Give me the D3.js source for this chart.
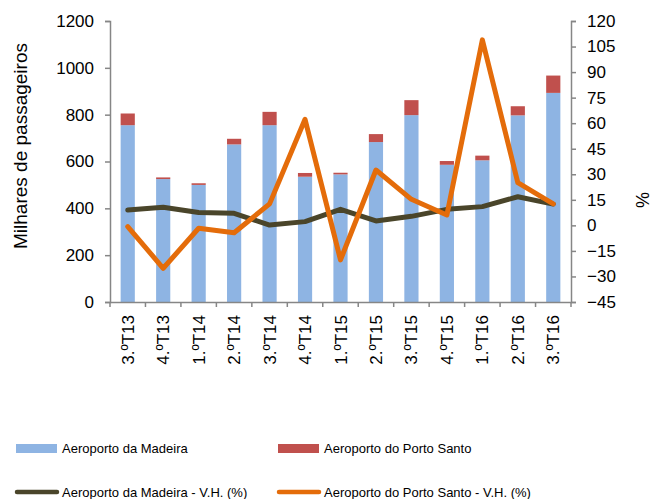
<!DOCTYPE html>
<html>
<head>
<meta charset="utf-8">
<script src="https://cdn.jsdelivr.net/npm/d3@7"></script>
<style>
  body { margin: 0; background: #fff; }
  svg { font-family: "Liberation Sans", Arial, sans-serif; }
</style>
</head>
<body>
<svg id="chart" width="654" height="499"></svg>
<script>
// data
const quarters = ["3.ºT13", "4.ºT13", "1.ºT14", "2.ºT14", "3.ºT14", "4.ºT14", "1.ºT15",
  "2.ºT15", "3.ºT15", "4.ºT15", "1.ºT16", "2.ºT16", "3.ºT16"];
const madeira = [755, 525, 500, 673, 755, 535, 545, 683, 798, 586, 605, 797, 893];
const portoSanto = [50, 7, 7, 24, 57, 16, 7, 34, 64, 16, 20, 39, 74];
const madeiraVH = [9.0, 10.6, 7.5, 7.1, 0.2, 2.2, 9.4, 2.6, 5.3, 9.4, 11.0, 16.8, 12.5];
const portoSantoVH = [-0.7, -25.2, -1.7, -4.3, 12.6, 62.3, -20.3, 32.5, 15.3, 6.1, 108.9, 25.1, 12.6];
const leftTicks = [0, 200, 400, 600, 800, 1000, 1200];
const rightTicks = [-45, -30, -15, 0, 15, 30, 45, 60, 75, 90, 105, 120];

const colors = {
  madeira: "#8EB4E3",
  portoSanto: "#C0504D",
  madeiraVH: "#4A452A",
  portoSantoVH: "#E46C0A",
  axis: "#868686"
};

const svg = d3.select("#chart");
const plotLeft = 110, plotRight = 571, plotTop = 21, plotBottom = 302;

const x = d3.scaleBand()
  .domain(quarters)
  .range([plotLeft, plotRight])
  .paddingInner(0.6)
  .paddingOuter(0.3);

const xBand = d3.scaleBand().domain(quarters).range([plotLeft, plotRight]);

const y = d3.scaleLinear().domain([0, 1200]).range([plotBottom, plotTop]);
const y2 = d3.scaleLinear().domain([-45, 120]).range([plotBottom, plotTop]);

// stacked bars
const bars = svg.append("g");
bars.selectAll(".madeira")
  .data(quarters)
  .enter()
  .append("rect")
  .attr("class", "madeira")
  .attr("x", d => x(d))
  .attr("width", x.bandwidth())
  .attr("y", (d, i) => y(madeira[i]))
  .attr("height", (d, i) => y(0) - y(madeira[i]))
  .attr("fill", colors.madeira);

bars.selectAll(".ps")
  .data(quarters)
  .enter()
  .append("rect")
  .attr("class", "ps")
  .attr("x", d => x(d))
  .attr("width", x.bandwidth())
  .attr("y", (d, i) => y(madeira[i] + portoSanto[i]))
  .attr("height", (d, i) => y(madeira[i]) - y(madeira[i] + portoSanto[i]))
  .attr("fill", colors.portoSanto);

// axes
const leftAxis = svg.append("g")
  .attr("transform", `translate(${plotLeft},0)`)
  .call(d3.axisLeft(y).tickValues(leftTicks).tickFormat(d3.format("d")).tickSize(5).tickPadding(11));

const rightAxis = svg.append("g")
  .attr("transform", `translate(${plotRight},0)`)
  .call(d3.axisRight(y2).tickValues(rightTicks).tickSize(5).tickPadding(11));

const xAxis = svg.append("g")
  .attr("transform", `translate(0,${plotBottom})`)
  .call(d3.axisBottom(xBand).tickSize(0).tickFormat(""));

// tick marks at band edges
xAxis.selectAll(".edge")
  .data(quarters.concat(["end"]))
  .enter()
  .append("line")
  .attr("x1", (d, i) => plotLeft + i * xBand.step())
  .attr("x2", (d, i) => plotLeft + i * xBand.step())
  .attr("y1", 0)
  .attr("y2", 5)
  .attr("stroke", colors.axis)
  .attr("stroke-width", 1.5);

xAxis.selectAll(".lbl")
  .data(quarters)
  .enter()
  .append("text")
  .attr("class", "lbl")
  .attr("transform", d => `translate(${xBand(d) + xBand.bandwidth() / 2 + 6},13) rotate(-90)`)
  .attr("text-anchor", "end")
  .attr("fill", "#000")
  .style("font-size", "17px")
  .text(d => d);

[leftAxis, rightAxis, xAxis].forEach(a => {
  a.select(".domain").attr("stroke", colors.axis).attr("stroke-width", 1.5);
  a.selectAll(".tick line").attr("stroke", colors.axis).attr("stroke-width", 1.5);
  a.selectAll(".tick text").attr("fill", "#000").style("font-size", "17px");
});

// lines
const line = vals => d3.line()
  .x((d, i) => xBand(quarters[i]) + xBand.bandwidth() / 2)
  .y(d => y2(d))(vals);

svg.append("path")
  .attr("d", line(madeiraVH))
  .attr("fill", "none")
  .attr("stroke", colors.madeiraVH)
  .attr("stroke-width", 5)
  .attr("stroke-linejoin", "round")
  .attr("stroke-linecap", "round");

svg.append("path")
  .attr("d", line(portoSantoVH))
  .attr("fill", "none")
  .attr("stroke", colors.portoSantoVH)
  .attr("stroke-width", 5)
  .attr("stroke-linejoin", "round")
  .attr("stroke-linecap", "round");

// axis titles
svg.append("text")
  .attr("transform", "translate(27,146) rotate(-90)")
  .attr("text-anchor", "middle")
  .style("font-size", "19px")
  .text("Milhares de passageiros");

svg.append("text")
  .attr("transform", "translate(649,200) rotate(-90)")
  .attr("text-anchor", "middle")
  .style("font-size", "18px")
  .text("%");

// legend
const legendItems = [
  { name: "Aeroporto da Madeira", color: colors.madeira, kind: "rect", x: 16, y: 448 },
  { name: "Aeroporto do Porto Santo", color: colors.portoSanto, kind: "rect", x: 278, y: 448 },
  { name: "Aeroporto da Madeira - V.H. (%)", color: colors.madeiraVH, kind: "line", x: 16, y: 492 },
  { name: "Aeroporto do Porto Santo - V.H. (%)", color: colors.portoSantoVH, kind: "line", x: 278, y: 492 }
];

const legend = svg.selectAll(".legend")
  .data(legendItems)
  .enter()
  .append("g")
  .attr("transform", d => `translate(${d.x},${d.y})`);

legend.filter(d => d.kind === "rect")
  .append("rect")
  .attr("x", 0).attr("y", -4)
  .attr("width", 41).attr("height", 9)
  .attr("fill", d => d.color);

legend.filter(d => d.kind === "line")
  .append("line")
  .attr("x1", 1).attr("x2", 41)
  .attr("y1", 0).attr("y2", 0)
  .attr("stroke", d => d.color)
  .attr("stroke-width", 4.5)
  .attr("stroke-linecap", "round");

legend.append("text")
  .attr("x", 46)
  .attr("y", 5)
  .style("font-size", "13px")
  .text(d => d.name);
</script>
</body>
</html>
